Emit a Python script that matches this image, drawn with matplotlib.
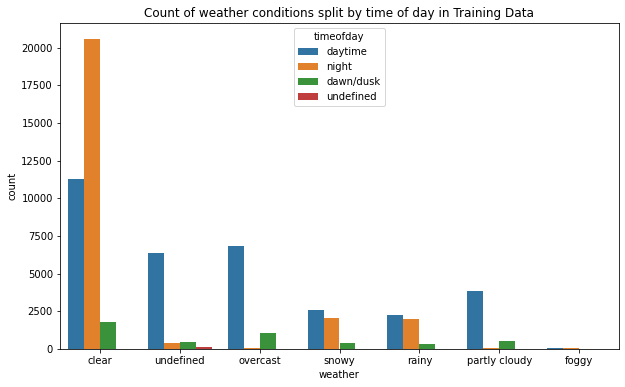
import numpy as np
import matplotlib
matplotlib.use('Agg')
import matplotlib.pyplot as plt

weather = ['clear', 'undefined', 'overcast', 'snowy', 'rainy', 'partly cloudy', 'foggy']
hues = ['daytime', 'night', 'dawn/dusk', 'undefined']

daytime = [11250, 6360, 6820, 2580, 2250, 3840, 60]
night = [20600, 400, 70, 2050, 1980, 80, 50]
dawn_dusk = [1790, 460, 1060, 400, 330, 520, 0]
undefined = [0, 140, 0, 0, 0, 0, 0]

colors = ['#3274a1', '#e1812c', '#3a923a', '#c03d3e']

def plot_counts():
    fig = plt.figure(figsize=(625 / 72, 387 / 72), dpi=72)
    ax = fig.add_axes([60 / 625, 38 / 387, 559 / 625, 326 / 387])

    x = np.arange(len(weather))
    w = 0.2
    series = [daytime, night, dawn_dusk, undefined]
    for i, (vals, name) in enumerate(zip(series, hues)):
        ax.bar(x + (i - 1.5) * w, vals, width=w, color=colors[i], label=name)

    ax.set_xticks(x)
    ax.set_xticklabels(weather)
    ax.set_xlim(-0.5, len(weather) - 0.5)
    ax.set_ylim(0, max(night) * 1.05)
    ax.set_xlabel('weather')
    ax.set_ylabel('count')
    ax.set_title('Count of weather conditions split by time of day in Training Data')
    ax.legend(title='timeofday', loc='upper center')

    fig.savefig('out.png', dpi=72)
    plt.close(fig)

if __name__ == "__main__":
    plot_counts()
